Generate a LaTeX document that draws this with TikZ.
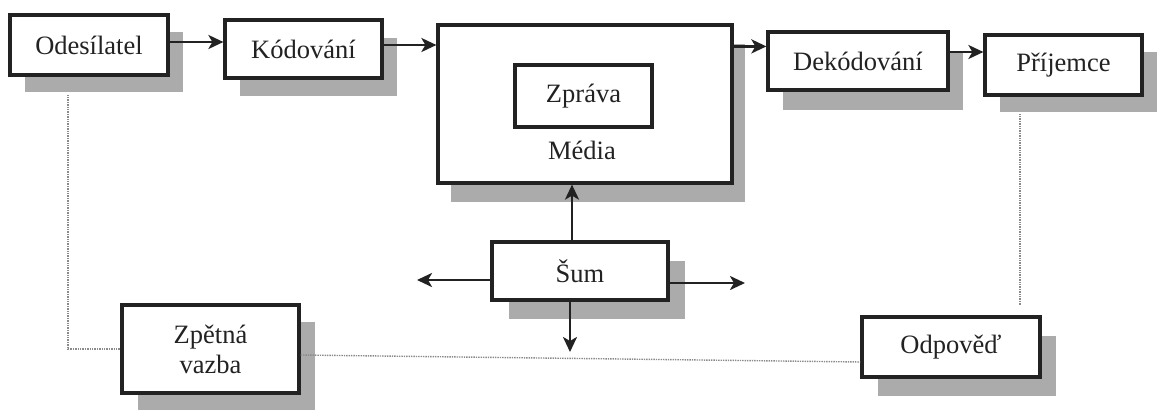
\documentclass[tikz,border=0pt]{standalone}
\usepackage{fontspec}
\setmainfont{Liberation Serif}
\usetikzlibrary{shadows,arrows.meta}
\definecolor{shadowc}{HTML}{ABABAB}
\definecolor{txt}{HTML}{222222}
\definecolor{fbc}{HTML}{8A8A8A}
\tikzset{
  box/.style={draw=txt, line width=3.2pt, fill=white, inner sep=0pt, text=txt,
    font=\fontsize{26.5}{30}\selectfont, align=center},
  shd/.style 2 args={drop shadow={shadow xshift=#1pt, shadow yshift=-#2pt, fill=shadowc, opacity=1, draw=none}},
  arr/.style={draw=txt, line width=2.6pt, -{Stealth[length=15pt,width=14pt,inset=4pt]}},
  fb/.style={draw=fbc, line width=1.4pt, densely dotted},
}
\begin{document}
\begin{tikzpicture}[x=1pt,y=-1pt]
\useasboundingbox (0,0) rectangle (1160,410);
\node[box, shd={15}{17}, minimum width=158pt, minimum height=60pt] (ode) at (89,45) {Odesílatel};
\node[box, shd={15}{18}, minimum width=157pt, minimum height=58pt] (kod) at (303.5,49) {Kódování};
\node[box, shd={13}{19}, minimum width=294pt, minimum height=158pt] (med) at (585,104) {};
\node[box, minimum width=137pt, minimum height=62pt] (zpr) at (583.5,96) {Zpráva};
\node[text=txt, font=\fontsize{26.5}{30}\selectfont, inner sep=0pt] (mlab) at (582,150) {Média};
\node[box, shd={15}{20}, minimum width=180pt, minimum height=58pt] (dek) at (858,61) {Dekódování};
\node[box, shd={15}{17}, minimum width=157pt, minimum height=60pt] (pri) at (1063.5,65) {Příjemce};
\node[box, shd={17}{19}, minimum width=176pt, minimum height=58pt] (sum) at (580,271) {Šum};
\node[box, shd={16}{17}, minimum width=177pt, minimum height=88pt] (zpe) at (210.5,349) {Zpětná\\vazba};
\node[box, shd={16}{19}, minimum width=178pt, minimum height=60pt] (odp) at (951,347) {Odpověď};
\coordinate (sl) at (417,280);
\coordinate (sr) at (745,283);
\coordinate (sd) at (570,352);
\coordinate (pd) at (1020,305);
% arrows
\draw[arr] ([yshift=3pt]ode.east) -- ([yshift=3pt]ode.east -| kod.west);
\draw[arr] ([yshift=4pt]kod.east) -- ([yshift=4pt]kod.east -| med.west);
\draw[arr] ([yshift=-23pt]med.north east) -- ([yshift=-23pt]med.north east -| dek.west);
\draw[arr] ([yshift=9pt]dek.east) -- ([yshift=9pt]dek.east -| pri.west);
\draw[arr] ([xshift=-8pt]sum.north) -- ([xshift=-8pt]sum.north |- med.south);
\draw[arr] (sum.west |- sl) -- (sl);
\draw[arr] (sum.east |- sr) -- (sr);
\draw[arr] (sum.south -| sd) -- (sd);
% feedback lines
\draw[fb] ([xshift=-21pt,yshift=-18pt]ode.south) |- (zpe.west);
\draw[fb] ([yshift=-6pt]zpe.east) -- ([yshift=-15pt]odp.west);
\draw[fb] ([yshift=-17pt]pri.south -| pd) -- (pd);
\end{tikzpicture}
\end{document}
